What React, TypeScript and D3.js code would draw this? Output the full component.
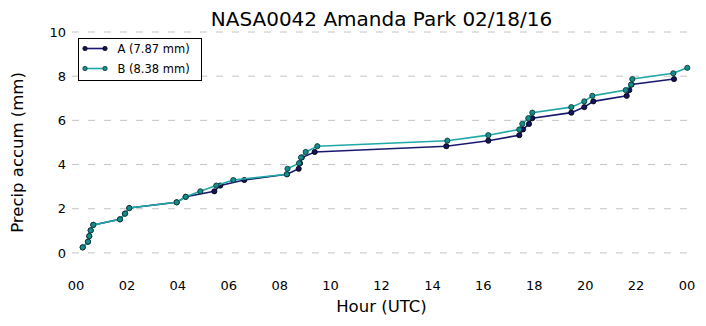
import React from "react";
import * as d3 from "d3";

const title = "NASA0042 Amanda Park 02/18/16";
const xTickHours = [0, 2, 4, 6, 8, 10, 12, 14, 16, 18, 20, 22, 24];
const xTickLabels = ["00", "02", "04", "06", "08", "10", "12", "14", "16", "18", "20", "22", "00"];
const yTicks = [0, 2, 4, 6, 8, 10];

const hoursA = [0.263, 0.471, 0.522, 0.577, 0.68, 1.728, 1.925, 2.094, 3.955, 4.309, 5.433, 5.668, 6.611, 8.288, 8.748, 8.799, 8.87, 9.376, 14.546, 16.195, 17.413, 17.558, 17.794, 17.924, 19.456, 19.966, 20.32, 21.632, 21.734, 21.821, 23.49];
const accumA = [0.25, 0.51, 0.76, 1.02, 1.27, 1.52, 1.78, 2.03, 2.29, 2.54, 2.79, 3.05, 3.3, 3.56, 3.81, 4.06, 4.32, 4.57, 4.83, 5.08, 5.33, 5.59, 5.84, 6.1, 6.35, 6.6, 6.86, 7.11, 7.37, 7.62, 7.87];

const hoursB = [0.263, 0.471, 0.522, 0.577, 0.68, 1.728, 1.925, 2.094, 3.955, 4.309, 4.883, 5.511, 6.179, 8.28, 8.308, 8.76, 8.838, 9.023, 9.479, 14.585, 16.195, 17.413, 17.531, 17.767, 17.924, 19.456, 19.966, 20.281, 21.593, 21.801, 21.852, 23.462, 24.012];
const accumB = [0.25, 0.51, 0.76, 1.02, 1.27, 1.52, 1.78, 2.03, 2.29, 2.54, 2.79, 3.05, 3.3, 3.56, 3.81, 4.06, 4.32, 4.57, 4.83, 5.08, 5.33, 5.59, 5.84, 6.1, 6.35, 6.6, 6.86, 7.11, 7.37, 7.62, 7.87, 8.13, 8.38];

const series = [
  { name: "A (7.87 mm)", hours: hoursA, accum: accumA, line: "#191970", fill: "#141460", edge: "#000000" },
  { name: "B (8.38 mm)", hours: hoursB, accum: accumB, line: "#1fa8a6", fill: "#138e8c", edge: "#0a2e2e" },
];

const W = 706, H = 326;
const plotLeft = 72, plotRight = 691, plotTop = 32, plotBottom = 275;
const font = "'DejaVu Sans', sans-serif";

export default function App() {
  const x = d3.scaleLinear().domain([0, 24]).range([76, 687]);
  const y = d3.scaleLinear().domain([-1, 10]).range([plotBottom, plotTop]);
  const line = d3.line<[number, number]>().x((d) => x(d[0])).y((d) => y(d[1]));

  return (
    <svg width={W} height={H} style={{ position: "absolute", left: 0, top: 0, background: "#fff" }} fontFamily={font}>
      <rect x={0} y={0} width={W} height={H} fill="#fff" />
      {yTicks.map((t) => (
        <g key={t}>
          <line x1={plotLeft} x2={plotRight} y1={y(t)} y2={y(t)} stroke="#c4c4c4" strokeWidth={1} strokeDasharray="7,9" />
          <text x={66} y={y(t)} dy="0.36em" textAnchor="end" fontSize={13} fill="#000">{t}</text>
        </g>
      ))}
      {xTickHours.map((h, i) => (
        <text key={i} x={x(h)} y={290} textAnchor="middle" fontSize={13} fill="#000">{xTickLabels[i]}</text>
      ))}
      {series.map((s) => {
        const pts: [number, number][] = s.hours.map((h, i) => [h, s.accum[i]]);
        return (
          <g key={s.name}>
            <path d={line(pts) || ""} fill="none" stroke={s.line} strokeWidth={1.6} />
            {pts.map((p, i) => (
              <circle key={i} cx={x(p[0])} cy={y(p[1])} r={2.6} fill={s.fill} stroke={s.edge} strokeWidth={0.8} />
            ))}
          </g>
        );
      })}
      <text x={(plotLeft + plotRight) / 2} y={26} textAnchor="middle" fontSize={20} fill="#000">{title}</text>
      <text x={(plotLeft + plotRight) / 2} y={312} textAnchor="middle" fontSize={16.5} fill="#000">Hour (UTC)</text>
      <text transform={`translate(23,${(plotTop + plotBottom) / 2 - 1}) rotate(-90)`} textAnchor="middle" fontSize={16.5} fill="#000">Precip accum (mm)</text>
      <g>
        <rect x={78.5} y={38.5} width={123} height={42} fill="#fff" stroke="#000" strokeWidth={1} />
        {series.map((s, i) => (
          <g key={s.name}>
            <line x1={85} x2={105} y1={48.5 + i * 20} y2={48.5 + i * 20} stroke={s.line} strokeWidth={1.6} />
            <circle cx={85} cy={48.5 + i * 20} r={2.2} fill={s.fill} stroke={s.edge} strokeWidth={0.7} />
            <circle cx={105} cy={48.5 + i * 20} r={2.2} fill={s.fill} stroke={s.edge} strokeWidth={0.7} />
            <text x={117.5} y={48.5 + i * 20} dy="0.36em" fontSize={11.5} fill="#000">{s.name}</text>
          </g>
        ))}
      </g>
    </svg>
  );
}
